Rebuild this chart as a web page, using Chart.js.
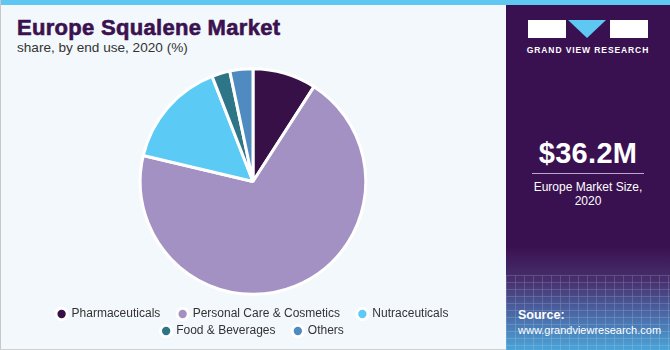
<!DOCTYPE html>
<html>
<head>
<meta charset="utf-8">
<script src="https://cdn.jsdelivr.net/npm/chart.js@4"></script>
<style>
  html, body { margin:0; padding:0; }
  body { width:670px; height:350px; position:relative; overflow:hidden; background:#f3f8fc; font-family:"Liberation Sans", Arial, sans-serif; }
  #topbar { position:absolute; left:0; top:0; width:670px; height:5px; background:#5ec8f2; }
  #leftborder { position:absolute; left:0; top:0; width:1px; height:350px; background:#c8c8c8; }
  #bottomborder { position:absolute; left:0; top:349px; width:506px; height:1px; background:#d0d0d0; }
  #title { position:absolute; left:17px; top:15px; font-size:22px; font-weight:900; color:#3b1250; letter-spacing:0.3px; -webkit-text-stroke:0.6px #3b1250; }
  #subtitle { position:absolute; left:17px; top:40px; font-size:13.6px; color:#333; }
  #panel { position:absolute; left:506px; top:5px; width:164px; height:345px;
    background:linear-gradient(to bottom, #3a1150 0%, #3a1150 70%, #47306e 80%, #4a5f9e 88%, #4aa4d8 100%); }
  #grid { position:absolute; left:0; top:270px; width:164px; height:75px; opacity:0.25;
    background-image:linear-gradient(to right, rgba(255,255,255,0.6) 1px, transparent 1px), linear-gradient(to bottom, rgba(255,255,255,0.6) 1px, transparent 1px);
    background-size:9px 7px; }
  .box { position:absolute; background:#fff; }
  #tri { position:absolute; left:62px; top:15px; width:0; height:0; border-left:19px solid transparent; border-right:19px solid transparent; border-top:18px solid #5ec8f2; }
  #gvr { position:absolute; left:0; width:164px; top:40px; text-align:center; color:#fff; font-size:8.5px; font-weight:bold; letter-spacing:0.9px; }
  #big { position:absolute; left:0; width:164px; top:132px; text-align:center; color:#fff; font-size:29px; font-weight:bold; letter-spacing:0.3px; }
  #rule { position:absolute; left:26px; width:112px; top:168px; height:1px; background:#b9a9cc; }
  #size { position:absolute; left:0; width:164px; top:175px; text-align:center; color:#fff; font-size:12px; line-height:14px; }
  #src { position:absolute; left:12px; top:303px; color:#fff; font-size:11px; line-height:15px; }
  #src b { font-size:12.5px; }
  #wrap { position:absolute; left:0; top:60px; width:506px; height:287px; }
</style>
</head>
<body>
<div id="topbar"></div>
<div id="leftborder"></div>
<div id="bottomborder"></div>
<div id="title">Europe Squalene Market</div>
<div id="subtitle">share, by end use, 2020 (%)</div>
<div id="panel">
  <div id="grid"></div>
  <div class="box" style="left:22px;top:15px;width:38px;height:18px;"></div>
  <div id="tri"></div>
  <div class="box" style="left:104px;top:15px;width:38px;height:18px;"></div>
  <div id="gvr">GRAND VIEW RESEARCH</div>
  <div id="big">$36.2M</div>
  <div id="rule"></div>
  <div id="size">Europe Market Size,<br>2020</div>
  <div id="src"><b>Source:</b><br>www.grandviewresearch.com</div>
</div>
<div id="wrap"><canvas id="c"></canvas></div>
<script>
const categories = ["Pharmaceuticals", "Personal Care & Cosmetics", "Nutraceuticals", "Food & Beverages", "Others"];
const shares = [9.1, 69.6, 15.4, 2.6, 3.3];
const colors = ["#371048", "#a391c4", "#5bcbf5", "#2e7588", "#4f8bc0"];
const rowEnds = ["Nutraceuticals", "Others"];

new Chart(document.getElementById('c'), {
  type: 'pie',
  data: {
    labels: categories,
    datasets: [{ data: shares, backgroundColor: colors, borderColor: '#ffffff', borderWidth: 3, radius: '94%' }]
  },
  options: {
    responsive: true,
    maintainAspectRatio: false,
    animation: false,
    layout: { padding: { top: 0, bottom: 0, left: 30, right: 30 } },
    plugins: {
      tooltip: { enabled: false },
      legend: {
        position: 'bottom',
        labels: {
          usePointStyle: true, pointStyle: 'circle', boxWidth: 8, boxHeight: 8,
          padding: 5,
          color: '#333',
          font: { family: '"Liberation Sans", Arial, sans-serif', size: 12 },
          generateLabels(chart) {
            const items = Chart.overrides.pie.plugins.legend.labels.generateLabels(chart);
            items.forEach(it => { if (!rowEnds.includes(it.text)) it.text = it.text + '    '; });
            return items;
          }
        }
      }
    }
  }
});
</script>
</body>
</html>
